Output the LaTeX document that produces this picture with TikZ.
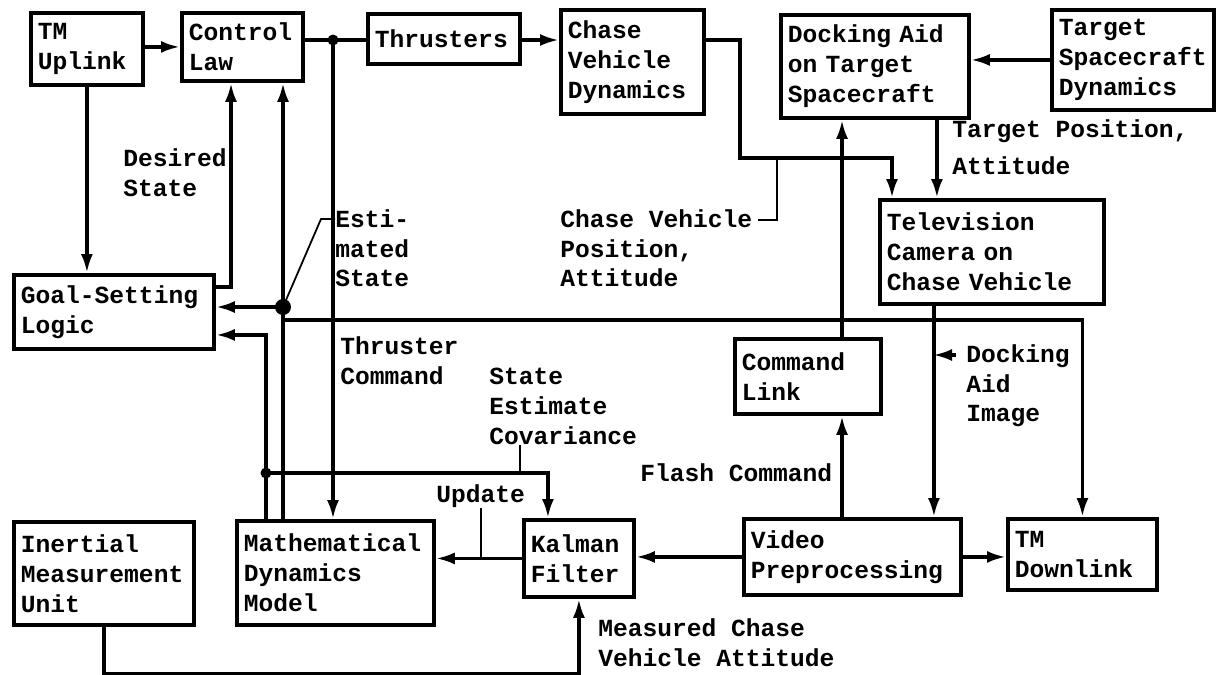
\documentclass[tikz,border=0pt]{standalone}
\usepackage{fontspec}
\setmonofont{Liberation Mono}
\usepackage{tikz}
\usetikzlibrary{arrows.meta,calc}

\begin{document}
\begin{tikzpicture}[x=0.02cm, y=-0.02cm,
    font=\ttfamily\bfseries\fontsize{14pt}{17pt}\selectfont,
    box/.style={draw, line width=2.2pt, align=left, anchor=north west,
                inner xsep=0.14cm, inner ysep=0pt},
    lbl/.style={align=left, anchor=north west, inner sep=0pt},
    arr/.style={-{Latex[length=0.38cm,width=0.24cm]}, line width=2pt},
    wire/.style={line width=2pt},
    lead/.style={line width=1pt},
    dot/.style={circle, fill=black, inner sep=0, minimum size=#1},
    dot/.default=0.22cm]

    \useasboundingbox (0,0) rectangle (1222,674);

    % blocks
    \node[box, text width=1.96cm, minimum height=1.44cm] (tmup) at (29,11) {TM\\Uplink};
    \node[box, text width=2.14cm, minimum height=1.36cm] (ctrl) at (180,11) {Control\\Law};
    \node[box, text width=2.76cm, minimum height=1.0cm] (thr) at (366,12) {Thrusters};
    \node[box, text width=2.58cm, minimum height=2.08cm] (cvd) at (559,8) {Chase\\Vehicle\\Dynamics};
    \node[box, text width=3.48cm, minimum height=2.06cm] (dock) at (779,13) {Docking Aid\\on Target\\Spacecraft};
    \node[box, text width=2.96cm, minimum height=2.0cm] (tsd) at (1050,8) {Target\\Spacecraft\\Dynamics};
    \node[box, text width=4.20cm, minimum height=2.08cm] (tv) at (878,198) {Television\\Camera on\\Chase Vehicle};
    \node[box, text width=3.72cm, minimum height=1.48cm] (goal) at (12,273) {Goal-Setting\\Logic};
    \node[box, text width=2.64cm, minimum height=1.5cm] (cmd) at (733,337) {Command\\Link};
    \node[box, text width=3.32cm, minimum height=2.06cm] (imu) at (12,520) {Inertial\\Measurement\\Unit};
    \node[box, text width=3.66cm, minimum height=2.08cm] (mdm) at (235,519) {Mathematical\\Dynamics\\Model};
    \node[box, text width=1.92cm, minimum height=1.54cm] (kal) at (522,518) {Kalman\\Filter};
    \node[box, text width=4.06cm, minimum height=1.52cm] (vid) at (742,517) {Video\\Preprocessing};
    \node[box, text width=2.70cm, minimum height=1.42cm] (tmdn) at (1006,517) {TM\\Downlink};

    % labels
    \node[lbl] (des) at (123,148) {Desired\\State};
    \node[lbl] (est) at (335,209) {Esti-\\mated\\State};
    \node[lbl] (cvp) at (560,209) {Chase Vehicle\\Position,\\Attitude};
    \node[lbl] (tc) at (340,336) {Thruster\\Command};
    \node[lbl] (sec) at (489,368) {State\\Estimate\\Covariance};
    \node[lbl] (upd) at (436,484) {Update};
    \node[lbl] (fc) at (640,463) {Flash Command};
    \node[lbl] (dai) at (966,344) {Docking\\Aid\\Image};
    \node[lbl] (tpa) at (952,119) {Target Position,\\[4pt]Attitude};
    \node[lbl] (mca) at (598,618) {Measured Chase\\Vehicle Attitude};

    % junctions and bends
    \coordinate (j1) at (333,40);
    \coordinate (je) at (283,307);
    \coordinate (jb) at (283,320);
    \coordinate (jc) at (266,473);
    \coordinate (xd) at (231,0);
    \coordinate (fl) at (842,0);
    \coordinate (cc) at (740,158);
    \coordinate (cvb) at (777,158);
    \coordinate (tvin) at ([xshift=0.28cm]tv.north west);
    \coordinate (dk) at ([xshift=1.24cm]dock.south);
    \coordinate (tvo) at ([xshift=-1.16cm]tv.south);
    \coordinate (kin) at ([xshift=-0.62cm]kal.north);
    \coordinate (gm) at ([yshift=-0.46cm]goal.east);
    \coordinate (gd) at ([yshift=0.5cm]goal.east);
    \coordinate (sl) at ($(sec.south west)+(31,0)$);

    % top row
    \draw[arr] (tmup.east |- ctrl) -- (ctrl.west);
    \draw[wire] (ctrl.east |- j1) -- (thr.west |- j1);
    \draw[arr] (thr.east |- j1) -- (cvd.west |- j1);
    \draw[arr] (cvd.east |- j1) -| (cc) -| (tvin);
    \draw[arr] (tsd.west) -- (tsd.west -| dock.east);
    \draw[arr] (dk) -- (dk |- tv.north);
    \draw[arr] (tvo) -- (tvo |- vid.north);
    \draw[arr] (cmd.north -| fl) -- (dock.south -| fl);
    \draw[arr] (vid.north -| fl) -- (cmd.south -| fl);

    % left side
    \draw[arr] (tmup.south) -- (tmup.south |- goal.north);
    \draw[arr] (gd) -| (ctrl.south -| xd);
    \draw[arr] (mdm.north -| je) -- (ctrl.south -| je);
    \draw[arr] (je) -- (je -| goal.east);
    \draw[arr] (mdm.north -| jc) |- (gm);
    \draw[arr] (j1) -- (j1 |- mdm.north);
    \draw[arr] (jb) -| (tmdn.north);

    % bottom row
    \draw[arr] (vid.west) -- (vid.west -| kal.east);
    \draw[arr] (kal.west) -- (kal.west -| mdm.east);
    \draw[arr] (vid.east) -- (vid.east -| tmdn.west);
    \draw[arr] (jc) -| (kin);
    \draw[arr] (imu.south) -- ++(0,47) -| (kal.south);

    % label leaders
    \draw[lead] (je) -- ++(38,-88) -- ++(14,0);
    \draw[lead] (cvb) |- ($(cvp.north east)+(5,11)$);
    \draw[lead] (upd.south) -- (upd.south |- kal.west);
    \draw[lead] (sl) -- (sl |- jc);
    \draw[arr] ($(dai.north west)+(-10,11)$) -- ($(dai.north west)+(-33,11)$);

    \node[dot] (d1) at (j1) {};
    \node[dot=0.32cm] (d2) at (je) {};
    \node[dot] (d3) at (jc) {};
\end{tikzpicture}
\end{document}
